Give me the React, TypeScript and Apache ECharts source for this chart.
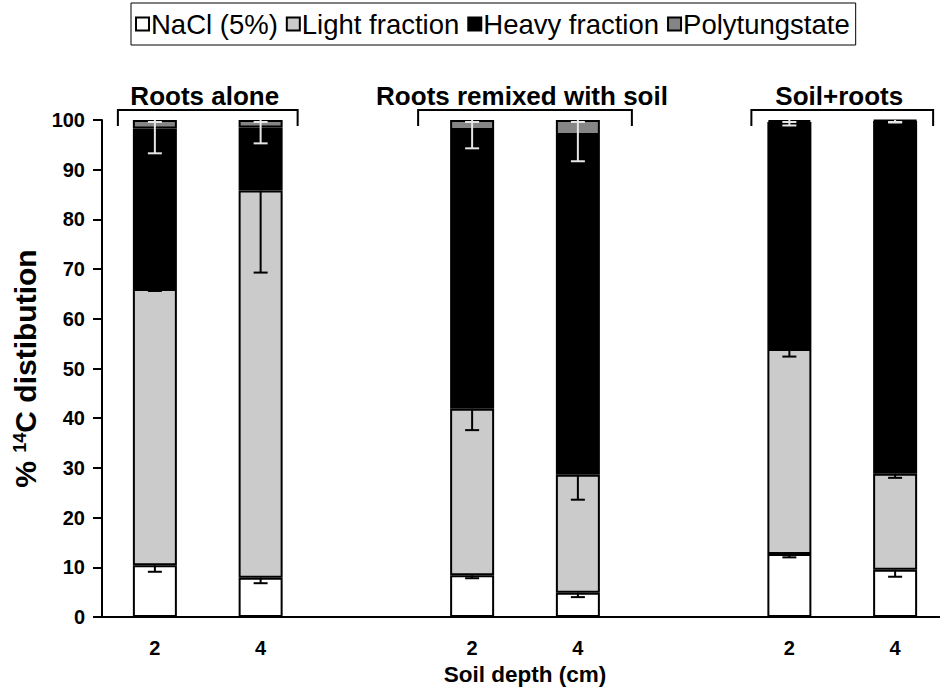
import React, { useEffect, useRef } from 'react';
import * as echarts from 'echarts';

// ---- data ----
const categories = ['2', '4', '', '2', '4', '', '2', '4'];
const seriesNames = ['NaCl (5%)', 'Light fraction', 'Heavy fraction', 'Polytungstate'];
const nacl = [10.4, 7.9, null, 8.4, 4.9, null, 12.7, 9.5];
const light = [55.6, 77.9, null, 33.5, 23.7, null, 41.2, 19.3];
const heavy = [32.3, 12.7, null, 56.1, 68.4, null, 45.7, 71.0];
const poly = [1.7, 1.5, null, 2.0, 3.0, null, 0.4, 0.2];
// lower end of the (minus-only) error bars, drawn down from the top of a segment
const naclErrLow = [9.1, 6.8, null, 7.8, 4.0, null, 12.0, 8.1];
const lightErrLow = [65.6, 69.3, null, 37.6, 23.6, null, 52.4, 28.0];
const totalErrLow = [93.3, 95.3, null, 94.3, 91.7, null, 98.9, 99.5];
const groupNames = ['Roots alone', 'Roots remixed with soil', 'Soil+roots'];
const groupFirstBar = [0, 3, 6];
const groupLastBar = [1, 4, 7];

// ---- styles ----
const FONT = '"Liberation Sans", Arial, sans-serif';
const colors = ['#ffffff', '#cbcbcb', '#000000', '#858585'];
const bracketPad = [37, 54, 38];

export default function App() {
  const ref = useRef<HTMLDivElement>(null);
  useEffect(() => {
    if (!ref.current) return;
    const chart = echarts.init(ref.current, null, { renderer: 'svg' });

    const values = [nacl, light, heavy, poly];
    const barSeries = values.map((arr, si) => ({
      name: seriesNames[si],
      type: 'bar',
      stack: 'total',
      barWidth: 44,
      itemStyle: { color: colors[si], borderColor: '#000', borderWidth: 2 },
      data: arr,
    }));

    const tops = (upTo: number) =>
      categories.map((c, i) => {
        if (c === '') return null;
        let s = 0;
        for (let k = 0; k <= upTo; k++) s += (values[k][i] as number) || 0;
        return s;
      });
    const naclTop = tops(0);
    const lightTop = tops(1);
    const totalTop = tops(3);

    const errData: any[] = [];
    categories.forEach((c, i) => {
      if (c === '') return;
      errData.push([i, naclTop[i], naclErrLow[i], 0]);
      errData.push([i, lightTop[i], lightErrLow[i], 0]);
      errData.push([i, totalTop[i], totalErrLow[i], 1]);
    });

    const errorSeries = {
      type: 'custom',
      name: 'err',
      z: 10,
      clip: false,
      silent: true,
      encode: { x: 0, y: [1, 2] },
      data: errData,
      renderItem: (params: any, api: any) => {
        const x = api.value(0);
        const top = api.value(1);
        const low = api.value(2);
        const onDark = api.value(3) === 1;
        const p1 = api.coord([x, top]);
        const p2 = api.coord([x, low]);
        const hw = 7;
        const stroke = onDark ? '#e6e6e6' : '#000';
        const children: any[] = [
          { type: 'line', shape: { x1: p1[0], y1: p1[1], x2: p2[0], y2: p2[1] }, style: { stroke, lineWidth: 2 } },
          { type: 'line', shape: { x1: p2[0] - hw, y1: p2[1], x2: p2[0] + hw, y2: p2[1] }, style: { stroke, lineWidth: 2 } },
        ];
        if (onDark) {
          children.push({ type: 'line', shape: { x1: p1[0] - hw, y1: p1[1] + 2, x2: p1[0] + hw, y2: p1[1] + 2 }, style: { stroke, lineWidth: 2 } });
        }
        return { type: 'group', children };
      },
    };

    const groupSeries = {
      type: 'custom',
      name: 'groups',
      z: 10,
      clip: false,
      silent: true,
      encode: { x: [0, 1], y: 2 },
      data: groupNames.map((g, gi) => [groupFirstBar[gi], groupLastBar[gi], 100, gi]),
      renderItem: (params: any, api: any) => {
        const gi = api.value(3);
        const a = api.coord([api.value(0), api.value(2)]);
        const b = api.coord([api.value(1), api.value(2)]);
        const pad = bracketPad[gi];
        const yTop = a[1] - 10;
        const yEnd = a[1] + 6;
        return {
          type: 'group',
          children: [
            {
              type: 'polyline',
              shape: { points: [[a[0] - pad, yEnd], [a[0] - pad, yTop], [b[0] + pad, yTop], [b[0] + pad, yEnd]] },
              style: { stroke: '#000', lineWidth: 2, fill: null },
            },
            {
              type: 'text',
              x: (a[0] + b[0]) / 2 - 3,
              y: a[1] - 24,
              style: {
                text: groupNames[gi],
                fontFamily: FONT,
                fontWeight: 'bold',
                fontSize: 26,
                fill: '#000',
                align: 'center',
                verticalAlign: 'middle',
              },
            },
          ],
        };
      },
    };

    chart.setOption({
      animation: false,
      backgroundColor: '#fff',
      textStyle: { fontFamily: FONT },
      grid: { left: 102, right: -8, top: 120, bottom: 71, outerBoundsMode: 'none', containLabel: false },
      legend: {
        data: seriesNames,
        left: 131,
        top: 3,
        icon: 'rect',
        itemWidth: 13,
        itemHeight: 13,
        itemGap: 8,
        padding: [7, 6, 7, 4],
        borderColor: '#000',
        borderWidth: 1,
        textStyle: { fontFamily: FONT, fontSize: 27.5, color: '#000', padding: [0, 0, 0, -3] },
      },
      xAxis: {
        type: 'category',
        data: categories,
        splitLine: { show: false },
        axisTick: { show: false },
        axisLine: { lineStyle: { color: '#000', width: 2 } },
        axisLabel: {
          interval: 0,
          fontFamily: FONT,
          fontWeight: 'bold',
          fontSize: 20,
          color: '#000',
          margin: 21,
        },
        name: 'Soil depth (cm)',
        nameLocation: 'middle',
        nameGap: 45,
        nameTextStyle: { fontFamily: FONT, fontWeight: 'bold', fontSize: 22.5, color: '#000' },
      },
      yAxis: {
        type: 'value',
        min: 0,
        max: 100,
        interval: 10,
        splitLine: { show: false },
        axisLine: { show: true, onZero: false, lineStyle: { color: '#000', width: 2 } },
        axisTick: { show: true, length: 9, lineStyle: { color: '#000', width: 2 } },
        axisLabel: {
          fontFamily: FONT,
          fontWeight: 'bold',
          fontSize: 20,
          color: '#000',
          margin: 17,
        },
        name: '% {sup|14}C distibution',
        nameLocation: 'middle',
        nameGap: 60,
        nameTextStyle: {
          fontFamily: FONT,
          fontWeight: 'bold',
          fontSize: 30,
          color: '#000',
          rich: {
            sup: { fontFamily: FONT, fontWeight: 'bold', fontSize: 18, verticalAlign: 'top', color: '#000', padding: [0, 0, 12, 0] },
          },
        },
      },
      series: [...barSeries, errorSeries, groupSeries],
    } as any);

    return () => chart.dispose();
  }, []);

  return (
    <div
      ref={ref}
      style={{ position: 'fixed', left: 0, top: 0, width: 940, height: 688, background: '#fff' }}
    />
  );
}
